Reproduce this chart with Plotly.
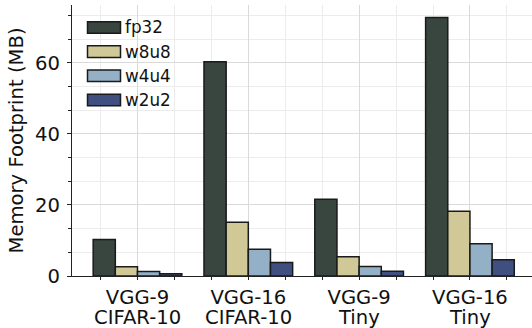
import plotly.graph_objects as go

line1 = ["VGG-9", "VGG-16", "VGG-9", "VGG-16"]
line2 = ["CIFAR-10", "CIFAR-10", "Tiny", "Tiny"]
series_names = ["fp32", "w8u8", "w4u4", "w2u2"]
fp32 = [10.3, 60.3, 21.6, 72.8]
w8u8 = [2.6, 15.1, 5.4, 18.2]
w4u4 = [1.3, 7.5, 2.7, 9.1]
w2u2 = [0.65, 3.8, 1.35, 4.6]
series_values = [fp32, w8u8, w4u4, w2u2]
colors = ["#38463f", "#d0c896", "#94b0c7", "#3f4f7f"]

FONT = "DejaVu Sans"
FS = 19.6
W, H = 532, 328
L, R, T, B = 72, 0, 5, 52
PW, PH = W - L - R, H - T - B

xpos = list(range(len(line1)))

fig = go.Figure()
for name, vals, col in zip(series_names, series_values, colors):
    fig.add_trace(go.Bar(
        x=xpos, y=vals, name=name, showlegend=False,
        marker=dict(color=col, line=dict(color="#1a1a1a", width=1.5)),
    ))

# second line of the category labels (tighter line spacing than <br>)
for xp, txt in zip(xpos, line2):
    fig.add_annotation(xref="x", yref="paper", x=xp, y=(H - B - 317) / PH,
                       xanchor="center", yanchor="middle", text=txt, showarrow=False,
                       borderpad=0,
                       font=dict(family=FONT, size=FS, color="#111111"))

# manual legend (wide patches as in the reference)
centers = [27.5, 51.6, 75.8, 100.0]
for name, col, cy in zip(series_names, colors, centers):
    off = cy - T
    fig.add_shape(type="rect", xref="paper", yref="paper",
                  xsizemode="pixel", ysizemode="pixel",
                  xanchor=0, yanchor=1,
                  x0=15.5, x1=48.5, y0=-off - 5.8, y1=-off + 5.8,
                  fillcolor=col, line=dict(color="#1a1a1a", width=1.5), layer="above")
    fig.add_annotation(xref="paper", yref="paper", x=(123 - L) / PW, y=(H - B - cy) / PH,
                       xanchor="left", yanchor="middle", text=name, showarrow=False,
                       font=dict(family=FONT, size=16.8, color="#111111"))

fig.update_layout(
    width=W, height=H,
    margin=dict(l=L, r=R, t=T, b=B, pad=0),
    paper_bgcolor="white", plot_bgcolor="white",
    barmode="group", bargap=0.2, bargroupgap=0.0,
    font=dict(family=FONT, size=FS, color="#111111"),
)
fig.update_xaxes(
    range=[-0.591, 3.56], automargin=False,
    tickmode="array", tickvals=xpos, ticktext=line1,
    ticks="outside", ticklen=3, tickcolor="#222222", tickwidth=1,
    ticklabelstandoff=0,
    showline=True, linecolor="#222222", linewidth=1.3,
    showgrid=True, gridcolor="#dadada", gridwidth=1,
    minor=dict(tick0=0, dtick=1/3, ticks="outside", ticklen=3, tickcolor="#222222",
               showgrid=True, gridcolor="#ececec", gridwidth=1),
    tickfont=dict(family=FONT, size=FS),
    zeroline=False, fixedrange=True,
)
fig.update_yaxes(
    range=[0, 76.3], automargin=False,
    tickmode="array", tickvals=[0, 20, 40, 60], ticktext=["0", "20", "40", "60"],
    ticks="outside", ticklen=4, tickcolor="#222222", tickwidth=1,
    ticklabelstandoff=3,
    showline=True, linecolor="#222222", linewidth=1.3,
    showgrid=True, gridcolor="#dadada", gridwidth=1,
    minor=dict(tick0=0, dtick=20/3, ticks="outside", ticklen=2.5, tickcolor="#222222",
               showgrid=True, gridcolor="#ececec", gridwidth=1),
    tickfont=dict(family=FONT, size=FS),
    title=dict(text="Memory Footprint (MB)", font=dict(family=FONT, size=FS), standoff=6),
    zeroline=False, fixedrange=True,
)

fig.write_html("out.html")
